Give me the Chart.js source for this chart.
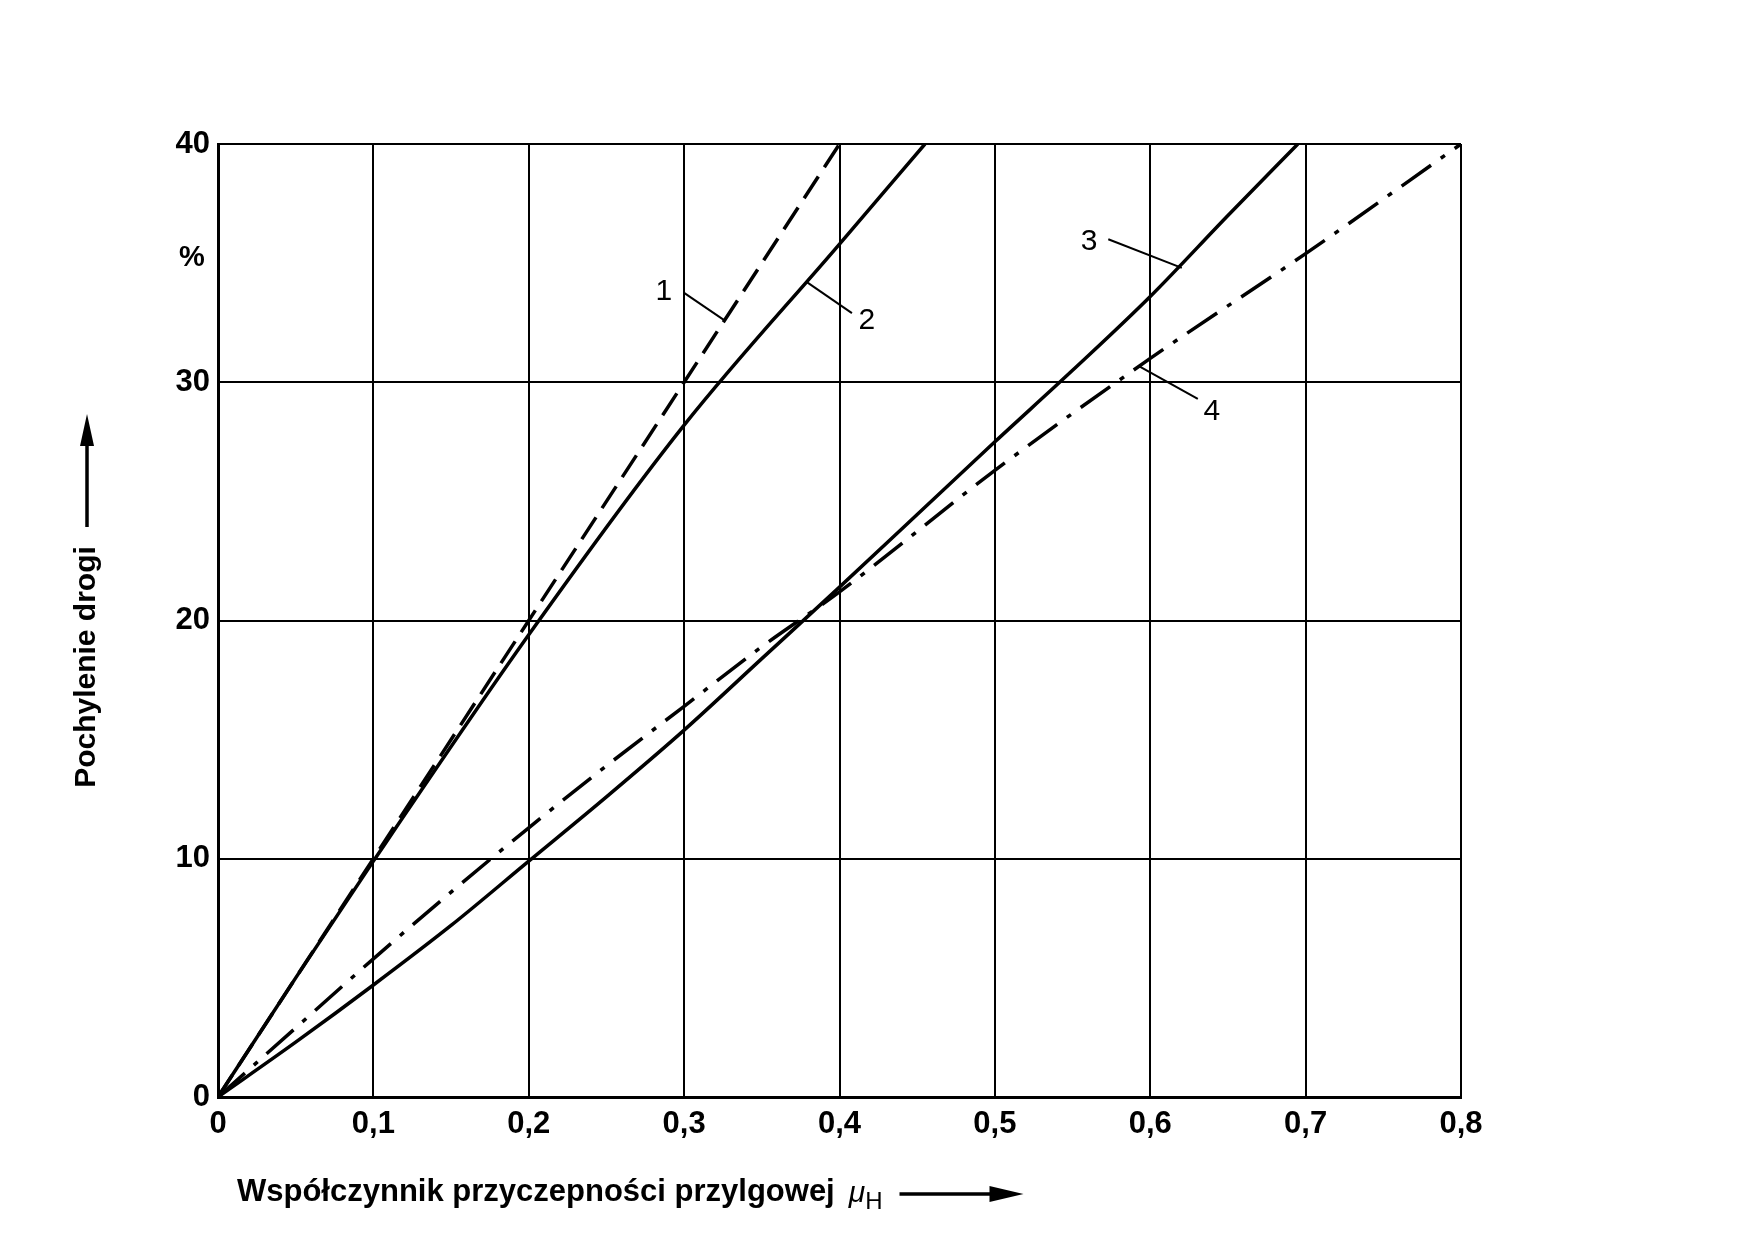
<!DOCTYPE html>
<html>
<head>
<meta charset="utf-8">
<script src="https://cdn.jsdelivr.net/npm/chart.js@4.4.1/dist/chart.umd.min.js"></script>
<style>
  html, body { margin: 0; padding: 0; background: #fff; }
  canvas { display: block; }
</style>
</head>
<body>
<canvas id="myChart" width="1751" height="1238"></canvas>
<script>
// tick values
var xTicks = [0, 0.1, 0.2, 0.3, 0.4, 0.5, 0.6, 0.7, 0.8];
var yTicks = [0, 10, 20, 30, 40];

// curve 1 (dashed)
var mu1 = [0, 0.1, 0.2, 0.3, 0.4];
var slope1 = [0, 10, 20, 30, 40];
// curve 2 (solid)
var mu2 = [0, 0.05, 0.1, 0.2, 0.3, 0.4, 0.455];
var slope2 = [0, 5.0, 9.9, 19.4, 28.2, 35.8, 40];
// curve 3 (solid)
var mu3 = [0, 0.05, 0.1, 0.15, 0.2, 0.25, 0.3, 0.35, 0.4, 0.45, 0.5, 0.55, 0.6, 0.65, 0.695];
var slope3 = [0, 2.3, 4.7, 7.2, 9.9, 12.6, 15.4, 18.4, 21.4, 24.45, 27.5, 30.5, 33.6, 37.0, 40];
// curve 4 (dash-dot)
var mu4 = [0, 0.05, 0.1, 0.15, 0.2, 0.25, 0.3, 0.35, 0.4, 0.5, 0.6, 0.7, 0.8];
var slope4 = [0, 2.9, 5.8, 8.6, 11.3, 13.9, 16.4, 18.9, 21.2, 26.3, 31.0, 35.4, 40];

var curveNames = ['1', '2', '3', '4'];
var xTitle = 'Współczynnik przyczepności przylgowej';
var yTitle = 'Pochylenie drogi';

function pts(xs, ys) {
    return xs.map(function (x, i) { return { x: x, y: ys[i] }; });
}

var FONT = '"Liberation Sans", Arial, sans-serif';

var annotate = {
    id: 'annotate',
    afterDraw: function (chart) {
        var ctx = chart.ctx, xs = chart.scales.x, ys = chart.scales.y;
        var P = function (x, y) { return [xs.getPixelForValue(x), ys.getPixelForValue(y)]; };
        ctx.save();
        ctx.fillStyle = '#000';
        ctx.strokeStyle = '#000';
        ctx.lineCap = 'butt';

        // curve numbers with leader lines
        var marks = [
            { t: curveNames[0], at: [0.287, 33.8], a: [0.300, 33.75], b: [0.326, 32.6] },
            { t: curveNames[1], at: [0.4176, 32.6], a: [0.408, 32.9], b: [0.379, 34.2] },
            { t: curveNames[2], at: [0.5606, 35.9], a: [0.573, 36.0], b: [0.6203, 34.8] },
            { t: curveNames[3], at: [0.6397, 28.75], a: [0.6306, 29.3], b: [0.593, 30.67] }
        ];
        ctx.font = '30px ' + FONT;
        ctx.textAlign = 'center';
        ctx.textBaseline = 'middle';
        ctx.lineWidth = 2;
        marks.forEach(function (m) {
            var c = P(m.at[0], m.at[1]);
            ctx.fillText(m.t, c[0], c[1]);
            var p1 = P(m.a[0], m.a[1]), p2 = P(m.b[0], m.b[1]);
            ctx.beginPath();
            ctx.moveTo(p1[0], p1[1]);
            ctx.lineTo(p2[0], p2[1]);
            ctx.stroke();
        });

        // percent sign
        ctx.font = 'bold 29px ' + FONT;
        var pc = P(0, 35.2);
        ctx.textAlign = 'center';
        ctx.fillText('%', pc[0] - 26, pc[1]);

        // y title with arrow
        ctx.save();
        ctx.translate(87, 667);
        ctx.rotate(-Math.PI / 2);
        ctx.font = 'bold 30px ' + FONT;
        ctx.textAlign = 'center';
        ctx.textBaseline = 'middle';
        ctx.fillText(yTitle, 0, 0);
        ctx.restore();
        ctx.lineWidth = 3.5;
        ctx.beginPath();
        ctx.moveTo(87, 527);
        ctx.lineTo(87, 440);
        ctx.stroke();
        ctx.beginPath();
        ctx.moveTo(87, 414);
        ctx.lineTo(80, 446);
        ctx.lineTo(94, 446);
        ctx.closePath();
        ctx.fill();

        // x title with mu_H and arrow
        ctx.font = 'bold 31px ' + FONT;
        ctx.textAlign = 'left';
        ctx.textBaseline = 'middle';
        var tx = 237, ty = 1192;
        ctx.fillText(xTitle, tx, ty);
        var w = ctx.measureText(xTitle).width;
        var mx = tx + w + 14;
        ctx.font = 'italic 30px ' + FONT;
        ctx.fillText('\u03bc', mx, ty + 2);
        var mw = ctx.measureText('\u03bc').width;
        ctx.font = '24px ' + FONT;
        ctx.fillText('H', mx + mw, ty + 10);
        var hx = mx + mw + ctx.measureText('H').width + 17;
        ctx.lineWidth = 3.5;
        ctx.beginPath();
        ctx.moveTo(hx, ty + 2);
        ctx.lineTo(hx + 92, ty + 2);
        ctx.stroke();
        ctx.beginPath();
        ctx.moveTo(hx + 124, ty + 2);
        ctx.lineTo(hx + 90, ty - 6);
        ctx.lineTo(hx + 90, ty + 10);
        ctx.closePath();
        ctx.fill();

        ctx.restore();
    }
};

var base = {
    showLine: true,
    pointRadius: 0,
    borderColor: '#000',
    backgroundColor: '#000',
    borderWidth: 3.5,
    fill: false
};

var ctx = document.getElementById('myChart').getContext('2d');
var myChart = new Chart(ctx, {
    type: 'scatter',
    data: {
        datasets: [
            Object.assign({}, base, { label: curveNames[0], data: pts(mu1, slope1), borderDash: [26, 11] }),
            Object.assign({}, base, { label: curveNames[1], data: pts(mu2, slope2), cubicInterpolationMode: 'monotone' }),
            Object.assign({}, base, { label: curveNames[2], data: pts(mu3, slope3), cubicInterpolationMode: 'monotone' }),
            Object.assign({}, base, { label: curveNames[3], data: pts(mu4, slope4), cubicInterpolationMode: 'monotone', borderDash: [36, 12, 5, 12] })
        ]
    },
    options: {
        responsive: false,
        animation: false,
        devicePixelRatio: 1,
        layout: { padding: { top: 144, right: 290, left: 0, bottom: 0 } },
        plugins: {
            legend: { display: false },
            tooltip: { enabled: false }
        },
        scales: {
            x: {
                type: 'linear',
                min: 0,
                max: 0.8,
                afterBuildTicks: function (s) { s.ticks = xTicks.map(function (v) { return { value: v }; }); },
                afterFit: function (s) { s.height = 141; },
                grid: { color: '#000', lineWidth: 2, drawTicks: false },
                border: { color: '#000', width: 3 },
                ticks: {
                    color: '#000',
                    padding: 9,
                    font: { family: FONT, size: 31, weight: 'bold' },
                    callback: function (v) { return v === 0 ? '0' : v.toFixed(1).replace('.', ','); }
                }
            },
            y: {
                type: 'linear',
                min: 0,
                max: 40,
                afterBuildTicks: function (s) { s.ticks = yTicks.map(function (v) { return { value: v }; }); },
                afterFit: function (s) { s.width = 218; },
                grid: { color: '#000', lineWidth: 2, drawTicks: false },
                border: { color: '#000', width: 3 },
                ticks: {
                    color: '#000',
                    padding: 8,
                    font: { family: FONT, size: 31, weight: 'bold' }
                }
            }
        }
    },
    plugins: [annotate]
});
</script>
</body>
</html>
